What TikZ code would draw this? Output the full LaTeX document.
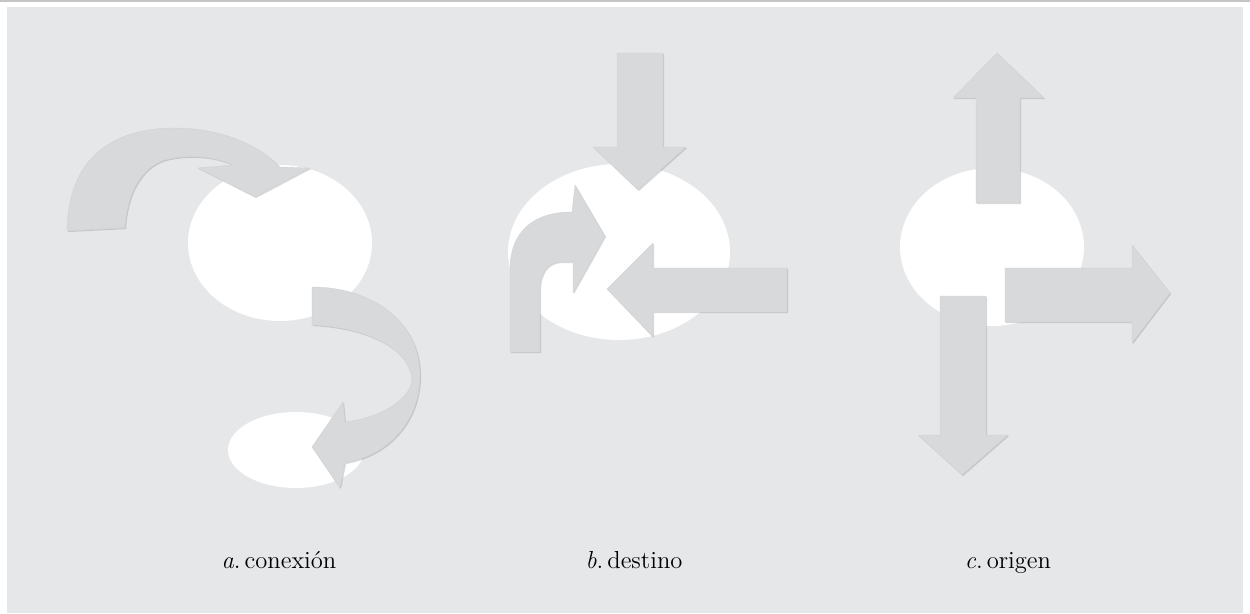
\documentclass[tikz,border=0pt]{standalone}
\usetikzlibrary{shadows}
\definecolor{panelgray}{HTML}{E6E7E9}
\definecolor{arrowgray}{HTML}{D8D9DB}
\definecolor{rulegray}{HTML}{C4C5C7}
\begin{document}
\begin{tikzpicture}[x=0.02cm,y=-0.02cm,line join=round,
    hole/.style={fill=white},
    flecha/.style={fill=arrowgray,draw=arrowgray!96!black,line width=0.2pt,
      drop shadow={shadow xshift=0.6pt,shadow yshift=-0.6pt,opacity=0.14,fill=black}},
    pie/.style={font=\fontsize{14}{17}\selectfont,anchor=base}]
  \useasboundingbox (0,0) rectangle (1250,613);
  \fill[white] (0,0) rectangle (1250,613);
  \fill[rulegray] (0,0) rectangle (1250,1.5);
  \fill[panelgray] (7,7) rectangle (1243,613);
  % a. conexion
  \fill[hole] (280,243) ellipse (92 and 78);
  \fill[hole] (296,450) ellipse (68 and 38);
  \path[flecha] (67,231) .. controls (68,160) and (110,128) .. (175,128)
    .. controls (225,128) and (262,148) .. (280,167) -- (310,168) -- (255,197)
    -- (198,168) -- (233,165) .. controls (210,155) and (185,155) .. (165,160)
    .. controls (140,168) and (127,195) .. (125,228) -- cycle;
  \path[flecha] (312,287) .. controls (370,287) and (420,320) .. (420,375)
    .. controls (420,420) and (390,455) .. (345,463) -- (340,488) -- (312,447)
    -- (343,402) -- (345,422) .. controls (380,418) and (410,400) .. (412,380)
    .. controls (410,350) and (370,328) .. (312,325) -- cycle;
  % b. destino
  \fill[hole] (619,252) ellipse (111 and 88);
  \path[flecha] (617,53) -- (663,53) -- (663,147) -- (686,147) -- (638,190)
    -- (593,147) -- (617,147) -- cycle;
  \path[flecha] (787,268) -- (787,312) -- (653,312) -- (653,337) -- (607,289)
    -- (653,243) -- (653,268) -- cycle;
  \path[flecha] (510,352) -- (510,270) .. controls (510,230) and (535,212) .. (572,212)
    -- (575,185) -- (605,236) -- (573,293) -- (573,262) -- (562,262)
    .. controls (548,262) and (540,272) .. (540,290) -- (540,352) -- cycle;
  % c. origen
  \fill[hole] (992,247) ellipse (92 and 79);
  \path[flecha] (976,203) -- (976,98) -- (953,98) -- (997,53) -- (1044,98)
    -- (1020,98) -- (1020,203) -- cycle;
  \path[flecha] (1005,268) -- (1132,268) -- (1132,245) -- (1170,293) -- (1132,343)
    -- (1132,322) -- (1005,322) -- cycle;
  \path[flecha] (940,296) -- (986,296) -- (986,435) -- (1008,435) -- (962,475)
    -- (918,435) -- (940,435) -- cycle;
  % captions
  \node[pie] (capa) at (279,568) {\textit{a}.\,conexión};
  \node[pie] (capb) at (634,568) {\textit{b}.\,destino};
  \node[pie] (capc) at (1008,568) {\textit{c}.\,origen};
\end{tikzpicture}
\end{document}
